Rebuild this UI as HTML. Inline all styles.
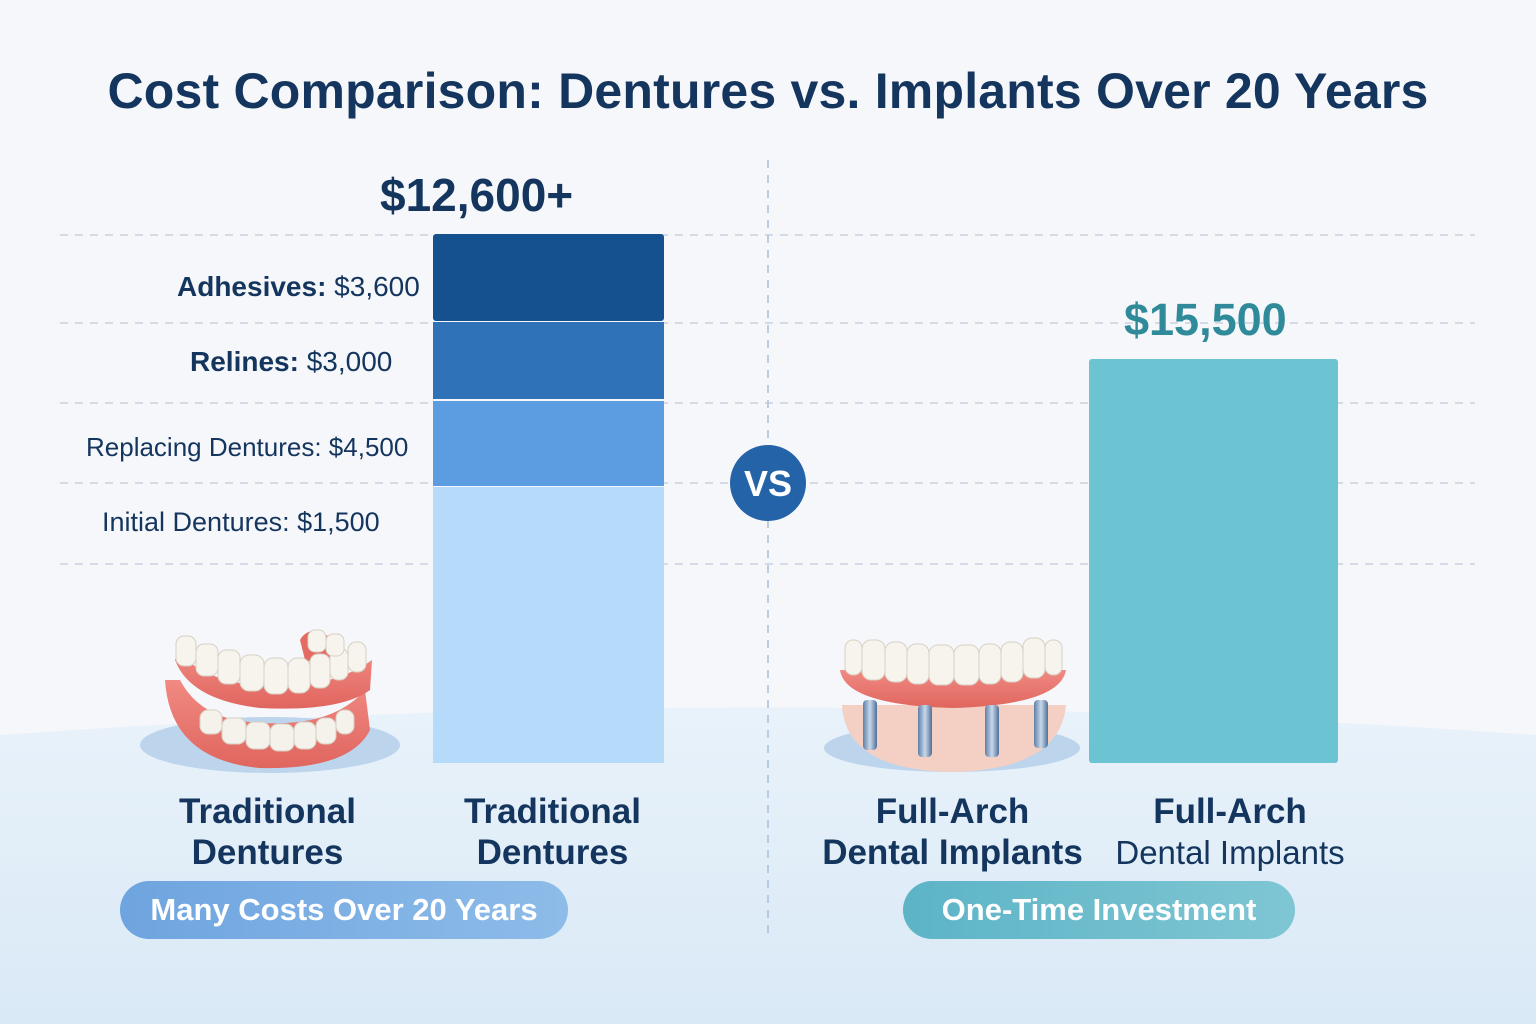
<!DOCTYPE html>
<html><head><meta charset="utf-8"><style>
html,body{margin:0;padding:0}
body{width:1536px;height:1024px;position:relative;overflow:hidden;background:#f6f7fa;font-family:"Liberation Sans",sans-serif;color:#14355e}
.abs{position:absolute}
.t{font-weight:bold}
</style></head><body>
<svg class="abs" style="left:0;top:0" width="1536" height="1024">
<defs>
<linearGradient id="bg" x1="0" y1="0" x2="0" y2="1"><stop offset="0" stop-color="#e9f2fa"/><stop offset="1" stop-color="#d9e9f6"/></linearGradient>
<linearGradient id="gum" x1="0" y1="0" x2="0" y2="1"><stop offset="0" stop-color="#f08a82"/><stop offset="1" stop-color="#e0665f"/></linearGradient>
<linearGradient id="scr" x1="0" y1="0" x2="1" y2="0"><stop offset="0" stop-color="#5d7fa8"/><stop offset=".5" stop-color="#c8d8ea"/><stop offset="1" stop-color="#4f6f98"/></linearGradient>
</defs>
<path d="M0 735 Q768 680 1536 735 L1536 1024 L0 1024Z" fill="url(#bg)"/>
<g stroke="#c8d0e0" stroke-width="1.5" stroke-dasharray="8 7" fill="none">
<line x1="60" y1="235" x2="1475" y2="235"/>
<line x1="60" y1="323" x2="1475" y2="323"/>
<line x1="60" y1="403" x2="1475" y2="403"/>
<line x1="60" y1="483" x2="1475" y2="483"/>
<line x1="60" y1="564" x2="1475" y2="564"/>
<line x1="768" y1="160" x2="768" y2="940" stroke="#a9bfd8"/>
</g>
<rect x="433" y="234" width="231" height="87" fill="#15508f" rx="3"/>
<rect x="433" y="322" width="231" height="77" fill="#2f72b8"/>
<rect x="433" y="401" width="231" height="85" fill="#5b9de0"/>
<rect x="433" y="487" width="231" height="276" fill="#b6dafa"/>
<rect x="1089" y="359" width="249" height="404" fill="#6cc3d2" rx="3"/>
<circle cx="768" cy="483" r="38" fill="#2563a8"/>
<ellipse cx="270" cy="745" rx="130" ry="28" fill="#bcd4ec"/>
<path d="M165 680 Q170 760 260 768 Q350 770 370 730 L365 690 Q330 730 250 722 Q200 718 180 680Z" fill="url(#gum)"/>
<g fill="#f5f2ec" stroke="#d8d0c4" stroke-width="1">
<rect x="200" y="710" width="22" height="24" rx="8"/><rect x="222" y="718" width="24" height="26" rx="8"/><rect x="246" y="722" width="24" height="27" rx="8"/><rect x="270" y="724" width="24" height="27" rx="8"/><rect x="294" y="722" width="22" height="27" rx="8"/><rect x="316" y="718" width="20" height="26" rx="8"/><rect x="336" y="710" width="18" height="24" rx="8"/>
</g>
<path d="M175 660 Q190 700 260 708 Q340 712 370 690 L372 660 Q330 690 260 686 Q200 680 178 650Z" fill="url(#gum)"/>
<path d="M300 640 Q305 630 320 630 L345 650 L340 670 L305 660Z" fill="#e56a62"/>
<g fill="#f7f4ee" stroke="#d8d0c4" stroke-width="1">
<rect x="176" y="636" width="20" height="30" rx="8"/><rect x="196" y="644" width="22" height="32" rx="8"/><rect x="218" y="650" width="22" height="34" rx="8"/><rect x="240" y="655" width="24" height="36" rx="9"/><rect x="264" y="658" width="24" height="36" rx="9"/><rect x="288" y="658" width="22" height="35" rx="9"/><rect x="310" y="654" width="20" height="34" rx="8"/><rect x="330" y="648" width="18" height="32" rx="8"/><rect x="348" y="642" width="18" height="30" rx="8"/><rect x="308" y="630" width="18" height="22" rx="7"/><rect x="326" y="634" width="18" height="22" rx="7"/>
</g>
<ellipse cx="952" cy="748" rx="128" ry="24" fill="#bcd4ec"/>
<path d="M842 705 Q845 770 952 772 Q1060 770 1066 705Z" fill="#f3cfc4"/>
<path d="M840 670 Q845 705 952 708 Q1060 705 1066 670Z" fill="url(#gum)"/>
<g fill="url(#scr)">
<rect x="863" y="700" width="14" height="50" rx="4"/><rect x="918" y="705" width="14" height="52" rx="4"/><rect x="985" y="705" width="14" height="52" rx="4"/><rect x="1034" y="700" width="14" height="48" rx="4"/>
</g>
<g fill="#f7f4ee" stroke="#d8d0c4" stroke-width="1">
<rect x="845" y="640" width="17" height="35" rx="8"/><rect x="862" y="640" width="23" height="40" rx="9"/><rect x="885" y="642" width="22" height="40" rx="9"/><rect x="907" y="644" width="22" height="40" rx="9"/><rect x="929" y="645" width="25" height="40" rx="9"/><rect x="954" y="645" width="25" height="40" rx="9"/><rect x="979" y="644" width="22" height="40" rx="9"/><rect x="1001" y="642" width="22" height="40" rx="9"/><rect x="1023" y="638" width="22" height="40" rx="9"/><rect x="1045" y="640" width="17" height="35" rx="8"/>
</g>
</svg>
<div class="abs t" style="left:0;width:1536px;top:62px;text-align:center;font-size:50px;letter-spacing:0.2px">Cost Comparison: Dentures vs. Implants Over 20 Years</div>
<div class="abs t" style="left:380px;top:168px;font-size:46px">$12,600+</div>
<div class="abs t" style="left:1124px;top:294px;font-size:45px;color:#2f8a99">$15,500</div>
<div class="abs t" style="left:735px;top:463px;width:66px;text-align:center;font-size:36px;color:#fff">VS</div>
<div class="abs" style="left:177px;top:271px;font-size:28px"><b>Adhesives:</b> $3,600</div>
<div class="abs" style="left:190px;top:346px;font-size:28px"><b>Relines:</b> $3,000</div>
<div class="abs" style="left:86px;top:432px;font-size:26px">Replacing Dentures: $4,500</div>
<div class="abs" style="left:102px;top:507px;font-size:27px">Initial Dentures: $1,500</div>
<div class="abs t" style="left:130px;width:275px;top:791px;text-align:center;font-size:35px;line-height:41px">Traditional<br>Dentures</div>
<div class="abs t" style="left:415px;width:275px;top:791px;text-align:center;font-size:35px;line-height:41px">Traditional<br>Dentures</div>
<div class="abs t" style="left:790px;width:325px;top:791px;text-align:center;font-size:35px;line-height:41px">Full-Arch<br>Dental Implants</div>
<div class="abs" style="left:1080px;width:300px;top:791px;text-align:center;font-size:33px;line-height:41px"><b style="font-size:35px">Full-Arch</b><br>Dental Implants</div>
<div class="abs t" style="left:120px;top:881px;width:448px;height:58px;border-radius:29px;background:linear-gradient(90deg,#6ea4df,#8ebce9);color:#fff;font-size:31px;line-height:58px;text-align:center">Many Costs Over 20 Years</div>
<div class="abs t" style="left:903px;top:881px;width:392px;height:58px;border-radius:29px;background:linear-gradient(90deg,#5cb4c6,#7fc6d4);color:#fff;font-size:31px;line-height:58px;text-align:center">One-Time Investment</div>
</body></html>
